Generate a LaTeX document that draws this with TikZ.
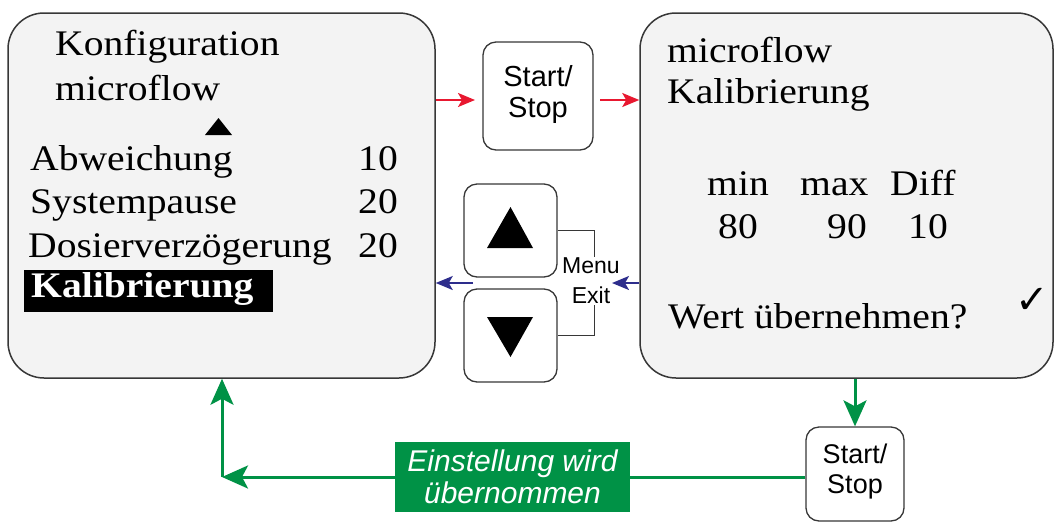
\documentclass[tikz,border=0pt]{standalone}
\usepackage{fontspec}
\setmainfont{Liberation Serif}
\newfontfamily\scrfont[FakeStretch=1.1]{Liberation Serif}
\newfontfamily\btnfont{Liberation Sans}
\newfontfamily\symfont{DejaVu Sans}
\usetikzlibrary{arrows.meta}
\definecolor{bordergray}{RGB}{55,55,55}
\definecolor{screenfill}{RGB}{243,243,243}
\definecolor{myred}{RGB}{232,24,48}
\definecolor{myblue}{RGB}{45,45,140}
\definecolor{mygreen}{RGB}{0,146,70}
\tikzset{
  screen/.style={draw=bordergray, line width=1.5pt, fill=screenfill, rounded corners=36pt, inner sep=0pt},
  txt/.style={anchor=base west, inner sep=0pt, font=\scrfont\fontsize{36}{43}\selectfont},
  num/.style={anchor=base east, inner sep=0pt, font=\scrfont\fontsize{36}{43}\selectfont},
  keybox/.style={draw=bordergray, line width=1.3pt, fill=white, rounded corners=13pt, inner sep=0pt},
  keytext/.style={align=center, font=\btnfont\fontsize{29}{31}\selectfont},
  rarrow/.style={draw=myred, line width=2pt, -{Stealth[length=17pt,width=14pt,inset=4pt]}},
  barrow/.style={draw=myblue, line width=2pt, -{Stealth[length=17pt,width=14pt,inset=4pt]}},
  garrow/.style={draw=mygreen, line width=3pt, -{Stealth[length=26pt,width=23pt,inset=6pt]}},
  gline/.style={draw=mygreen, line width=3pt},
}
\begin{document}
\begin{tikzpicture}[x=1pt,y=-1pt]
\useasboundingbox (0,0) rectangle (1055,523);
% screens
\node[screen, minimum width=427pt, minimum height=365pt] (L) at (221.5,195.5) {};
\node[screen, minimum width=413pt, minimum height=365pt] (R) at (846.5,195.5) {};
% left screen text
\node[txt] (t1) at (55,55) {Konfiguration};
\node[txt] (t2) at (55,100) {microflow};
\fill[black] (205,135) -- (232,135) -- (218.5,118) -- cycle;
\node[txt] (t3) at (30,170) {Abweichung};
\node[num] (n3) at (398,170) {10};
\node[txt] (t4) at (30,213) {Systempause};
\node[num] (n4) at (398,213) {20};
\node[txt] (t5) at (28,257) {Dosierverzögerung};
\node[num] (n5) at (398,257) {20};
\node[fill=black, minimum width=249pt, minimum height=42pt, inner sep=0pt] (hl) at (148.5,291) {};
\node[txt, text=white, font=\scrfont\bfseries\fontsize{36}{43}\selectfont] (t6) at (31,297) {Kalibrierung};
% right screen text
\node[txt] (r1) at (667,62) {microflow};
\node[txt] (r2) at (667,103) {Kalibrierung};
\node[txt] (r3) at (707,195) {min};
\node[txt] (r4) at (800,195) {max};
\node[txt] (r5) at (890,195) {Diff};
\node[txt] (r6) at (718,238) {80};
\node[txt] (r7) at (827,238) {90};
\node[txt] (r8) at (908,238) {10};
\node[txt] (r9) at (668,328) {Wert übernehmen?};
\node[anchor=base west, inner sep=0pt, font=\symfont\fontsize{40}{44}\selectfont] (ck) at (1015,313) {✓};
% keys
\node[keybox, minimum width=110pt, minimum height=108pt] (s1) at (538,96) {};
\node[keytext] (s1t) at (538,94) {Start/\\Stop};
\node[keybox, minimum width=93pt, minimum height=93pt] (up) at (510.5,230.5) {};
\node[keybox, minimum width=93pt, minimum height=93pt] (dn) at (510.5,335.5) {};
\fill[black] (487,248) -- (533,248) -- (510.5,207) -- cycle;
\fill[black] (487,317) -- (533,317) -- (510.5,357) -- cycle;
\node[keybox, minimum width=98pt, minimum height=94pt] (s2) at (855,474) {};
\node[keytext, font=\btnfont\fontsize{27}{30}\selectfont] (s2t) at (855,472) {Start/\\Stop};
% Menu / Exit bracket
\draw[draw=bordergray, line width=1.3pt] (up.east) -- ++(37,0) |- (dn.east);
\node[fill=white, inner sep=1pt, align=center, font=\btnfont\fontsize{23}{30}\selectfont] (me) at (591,281) {Menu\\Exit};
% red arrows
\coordinate (ra) at (475,100);
\coordinate (rb) at (600,100);
\draw[rarrow] (ra -| L.east) -- (ra);
\draw[rarrow] (rb) -- (rb -| R.west);
% blue arrows
\coordinate (ba) at (473,283);
\coordinate (bb) at (612,283);
\draw[barrow] (ba) -- (ba -| L.east);
\draw[barrow] (bb -| R.west) -- (bb);
% green
\node[fill=mygreen, text=white, minimum width=235pt, minimum height=70pt, inner sep=0pt, align=center, font=\btnfont\itshape\fontsize{30}{32}\selectfont] (gl) at (512.5,477) {Einstellung wird\\übernommen};
\coordinate (gc) at (222,477);
\draw[garrow] (s2.north |- R.south) -- (s2.north);
\draw[gline] (s2.west |- gl.east) -- (gl.east);
\draw[garrow] (gl.west) -- (gc);
\draw[garrow] (gc) -- (gc |- L.south);
\end{tikzpicture}
\end{document}
